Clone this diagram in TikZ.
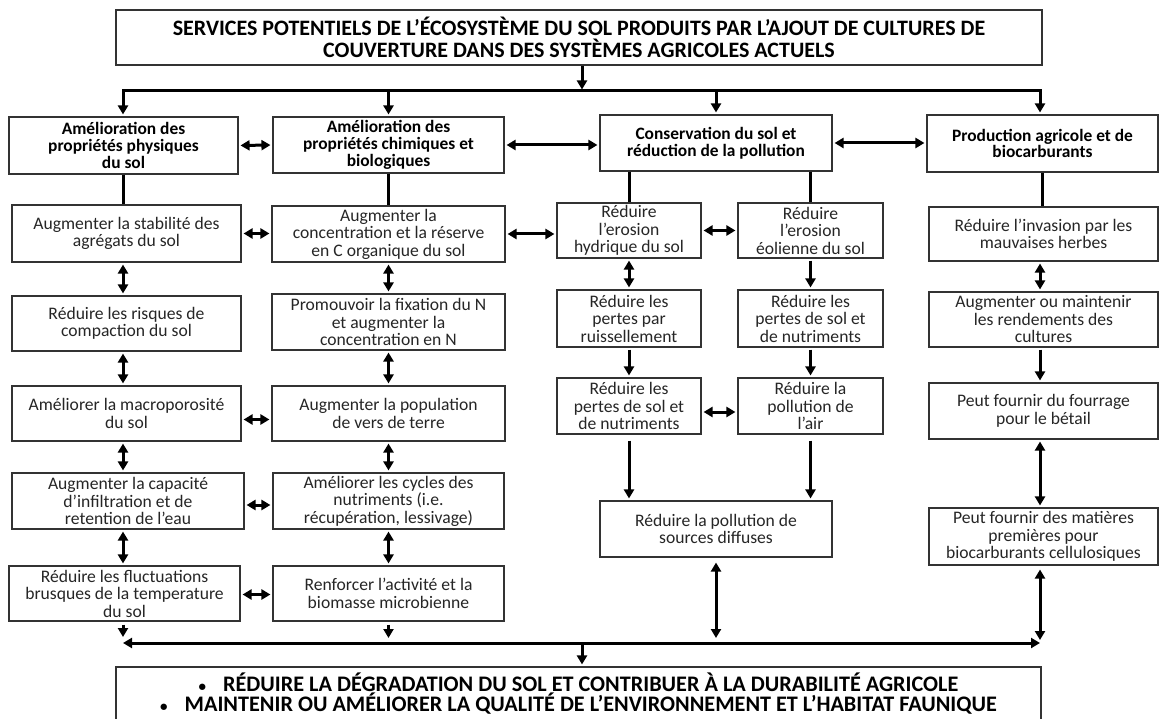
\documentclass[tikz,border=0pt]{standalone}
\usepackage{fontspec}
\setmainfont{Carlito}
\usetikzlibrary{arrows.meta}
\newcommand{\mkbox}[7]{\node[#7, minimum width={(#4-#2)*1pt}, minimum height={(#5-#3)*1pt}] (#1) at ({(#2+#4)/2},{(#3+#5)/2}) {#6};}
\newcommand{\smbul}{{\fontsize{15}{15}\selectfont\textbullet}\hspace{17pt}}
\tikzset{
  boxbase/.style={draw=black!80, line width=1.1pt, inner sep=0pt, align=center, fill=white},
  body/.style={boxbase, font=\fontsize{17.6}{17.5}\selectfont, text=black!85},
  head/.style={boxbase, font=\bfseries\fontsize{17.4}{16.7}\selectfont, text=black},
  big/.style={boxbase, font=\bfseries\fontsize{22}{22}\selectfont, text=black},
  bottombox/.style={boxbase, font=\bfseries\fontsize{22.2}{20}\selectfont, text=black},
  con/.style={line width=3pt, black},
  arr/.style={con, -{Triangle[length=9pt,width=10pt]}, shorten <=2pt, shorten >=2pt},
  darr/.style={con, {Triangle[length=9pt,width=10pt]}-{Triangle[length=9pt,width=10pt]}, shorten <=2pt, shorten >=2pt},
}
\begin{document}
\begin{tikzpicture}[x=1pt,y=-1pt]
\useasboundingbox (0,0) rectangle (1159,719);
% title
\mkbox{T}{116}{10}{1042}{65}{SERVICES POTENTIELS DE L’ÉCOSYSTÈME DU SOL PRODUITS PAR L’AJOUT DE CULTURES DE\\COUVERTURE DANS DES SYSTÈMES AGRICOLES ACTUELS}{big}
% headers
\mkbox{A}{9}{117}{238}{174}{Amélioration des\\propriétés physiques\\du sol}{head}
\mkbox{B}{273}{117}{504}{173}{Amélioration des\\propriétés chimiques et\\biologiques}{head}
\mkbox{C}{600}{115}{832}{171}{Conservation du sol et\\réduction de la pollution}{head}
\mkbox{D}{927}{115}{1158}{172}{Production agricole et de\\biocarburants}{head}
% level 2
\mkbox{A1}{12}{205}{241}{262}{Augmenter la stabilité des\\agrégats du sol}{body}
\mkbox{B1}{272}{206}{505}{262}{Augmenter la\\concentration et la réserve\\en C organique du sol}{body}
\mkbox{C1}{557}{203}{701}{258}{Réduire\\l’erosion\\hydrique du sol}{body}
\mkbox{C2}{738}{203}{883}{258}{Réduire\\l’erosion\\éolienne du sol}{body}
\mkbox{D1}{929}{207}{1158}{261}{Réduire l’invasion par les\\mauvaises herbes}{body}
% level 3
\mkbox{A2}{12}{296}{241}{351}{Réduire les risques de\\compaction du sol}{body}
\mkbox{B2}{272}{294}{505}{350}{Promouvoir la fixation du N\\et augmenter la\\concentration en N}{body}
\mkbox{C3}{557}{290}{701}{347}{Réduire les\\pertes par\\ruissellement}{body}
\mkbox{C4}{738}{290}{883}{347}{Réduire les\\pertes de sol et\\de nutriments}{body}
\mkbox{D2}{929}{292}{1158}{347}{Augmenter ou maintenir\\les rendements des\\cultures}{body}
% level 4
\mkbox{A3}{12}{386}{241}{441}{Améliorer la macroporosité\\du sol}{body}
\mkbox{B3}{272}{386}{505}{441}{Augmenter la population\\de vers de terre}{body}
\mkbox{C5}{557}{378}{701}{434}{Réduire les\\pertes de sol et\\de nutriments}{body}
\mkbox{C6}{738}{378}{883}{434}{Réduire la\\pollution de\\l’air}{body}
\mkbox{D3}{929}{383}{1158}{439}{Peut fournir du fourrage\\pour le bétail}{body}
% level 5
\mkbox{A4}{12}{473}{244}{529}{Augmenter la capacité\\d’infiltration et de\\retention de l’eau}{body}
\mkbox{B4}{273}{473}{504}{529}{Améliorer les cycles des\\nutriments (i.e.\\récupération, lessivage)}{body}
\mkbox{C7}{600}{501}{832}{557}{Réduire la pollution de\\sources diffuses}{body}
\mkbox{D4}{929}{508}{1158}{565}{Peut fournir des matières\\premières pour\\biocarburants cellulosiques}{body}
% level 6
\mkbox{A5}{9}{566}{240}{621}{Réduire les fluctuations\\brusques de la temperature\\du sol}{body}
\mkbox{B5}{273}{566}{504}{621}{Renforcer l’activité et la\\biomasse microbienne}{body}
% bottom
\mkbox{Z}{116}{667}{1041}{720}{\smbul RÉDUIRE LA DÉGRADATION DU SOL ET CONTRIBUER À LA DURABILITÉ AGRICOLE\\\smbul MAINTENIR OU AMÉLIORER LA QUALITÉ DE L’ENVIRONNEMENT ET L’HABITAT FAUNIQUE}{bottombox}

% bus coordinates
\coordinate (tl) at (123,91);
\coordinate (tr) at (1040,91);
\coordinate (tt) at (582,91);
\coordinate (bl) at (123,643);
\coordinate (br) at (1040,643);
\coordinate (zb) at (582,643);
\coordinate (ax) at (123,0);

% top distribution
\draw[arr, shorten <=0pt, shorten >=0pt] (T.south -| tt) -- ([yshift=1.5pt]tt);
\draw[con, line cap=rect] (tl) -- (tr);
\draw[arr, shorten <=0pt] (tl) -- (tl |- A.north);
\draw[arr, shorten <=0pt] (tl -| B.north) -- (B.north);
\draw[arr, shorten <=0pt] (tl -| C.north) -- (C.north);
\draw[arr, shorten <=0pt] (tr) -- (tr |- D.north);

% header links
\draw[darr] (A.east) -- (B.west);
\draw[darr] (B.east) -- (B.east -| C.west);
\draw[darr] (C.east) -- (C.east -| D.west);
\draw[con] (A.south) -- (A.south |- A1.north);
\draw[con] (B.south) -- (B.south |- B1.north);
\draw[con] (C.south -| C1.north) -- (C1.north);
\draw[con] (C.south -| C2.north) -- (C2.north);
\draw[con] (D.south) -- (D.south |- D1.north);

% column A
\draw[darr] (A1.south -| ax) -- (A2.north -| ax);
\draw[darr] (A2.south -| ax) -- (A3.north -| ax);
\draw[darr] (A3.south -| ax) -- (A4.north -| ax);
\draw[darr] (A4.south -| ax) -- (A5.north -| ax);
% column B
\draw[darr] (B1.south) -- (B2.north);
\draw[darr] (B2.south) -- (B3.north);
\draw[darr] (B3.south) -- (B4.north);
\draw[darr] (B4.south) -- (B5.north);
% A-B links
\draw[darr] (A1.east) -- (A1.east -| B1.west);
\draw[darr] ([yshift=-6pt]A3.east) -- ([yshift=-6pt]A3.east -| B3.west);
\draw[darr] ([yshift=-4pt]A4.east) -- ([yshift=-4pt]A4.east -| B4.west);
\draw[darr] ([yshift=-1pt]A5.east) -- ([yshift=-1pt]A5.east -| B5.west);
\draw[darr] (B1.east) -- (B1.east -| C1.west);
% column C
\draw[darr] (C1.east) -- (C2.west);
\draw[darr] (C1.south) -- (C3.north);
\draw[arr] (C2.south) -- (C4.north);
\draw[arr] (C3.south) -- (C5.north);
\draw[arr] (C4.south) -- (C6.north);
\draw[darr] ([yshift=-6pt]C5.east) -- ([yshift=-6pt]C6.west);
\draw[arr, shorten <=6pt] (C5.south -| C1.south) -- (C7.north -| C1.south);
\draw[arr, shorten <=6pt] (C6.south) -- (C7.north -| C6.south);
% column D
\draw[darr] (D1.south -| br) -- (D2.north -| br);
\draw[arr] (D2.south -| br) -- (D3.north -| br);
\draw[darr] (D3.south -| br) -- (D4.north -| br);

% bottom collection
\draw[darr, shorten <=0pt, shorten >=0pt] (bl) -- (br);
\draw[arr, shorten <=3pt, shorten >=6pt] (A5.south -| bl) -- (bl);
\draw[arr, shorten <=3pt, shorten >=5pt] (B5.south) -- (B5.south |- bl);
\draw[darr, shorten <=5pt, shorten >=5pt] (C7.south) -- (C7.south |- bl);
\draw[darr, shorten <=4pt, shorten >=3pt] (D4.south -| br) -- (br);
\draw[arr, shorten <=0pt] (zb) -- (zb |- Z.north);
\end{tikzpicture}
\end{document}
